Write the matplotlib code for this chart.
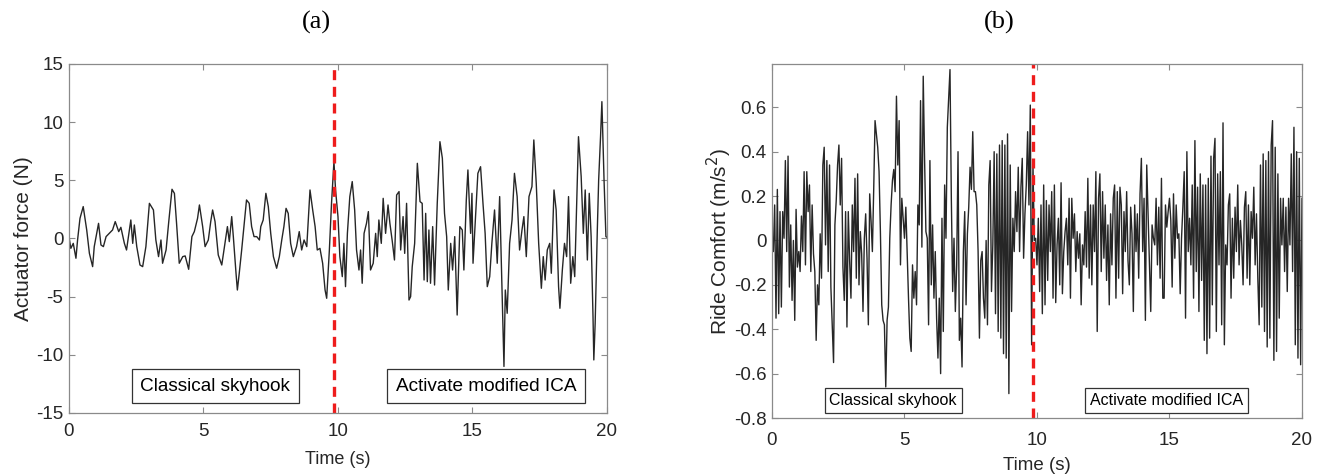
import numpy as np
import matplotlib.pyplot as plt

plt.rcParams['axes.unicode_minus'] = False

# ---- panel (a): actuator force ----
t_force = [0.0, 0.07, 0.16, 0.26, 0.32, 0.41, 0.53, 0.66, 0.76, 0.88, 0.94, 1.10, 1.19, 1.28,
           1.38, 1.50, 1.62, 1.72, 1.85, 1.93, 2.06, 2.14, 2.30, 2.37, 2.43, 2.52, 2.64, 2.74,
           2.86, 2.99, 3.14, 3.23, 3.33, 3.42, 3.48, 3.61, 3.71, 3.83, 3.92, 4.00, 4.10, 4.23,
           4.32, 4.45, 4.57, 4.66, 4.78, 4.85, 4.97, 5.06, 5.18, 5.27, 5.34, 5.43, 5.55, 5.68,
           5.80, 5.89, 5.96, 6.05, 6.11, 6.21, 6.26, 6.33, 6.42, 6.48, 6.60, 6.70, 6.79, 6.88,
           6.98, 7.08, 7.13, 7.22, 7.32, 7.41, 7.50, 7.60, 7.72, 7.82, 7.91, 7.99, 8.07, 8.15,
           8.24, 8.34, 8.46, 8.56, 8.65, 8.74, 8.84, 8.96, 9.06, 9.15, 9.23, 9.33, 9.43, 9.52,
           9.58, 9.68, 9.76, 9.85, 9.91, 10.00, 10.07, 10.16, 10.22, 10.28, 10.35, 10.44,
           10.53, 10.62, 10.69, 10.78, 10.84, 10.90, 10.97, 11.06, 11.13, 11.21, 11.31, 11.40,
           11.46, 11.52, 11.61, 11.68, 11.77, 11.86, 11.93, 12.02, 12.10, 12.18, 12.27, 12.33,
           12.42, 12.48, 12.55, 12.64, 12.70, 12.76, 12.85, 12.95, 13.05, 13.13, 13.20, 13.26,
           13.32, 13.38, 13.44, 13.52, 13.59, 13.69, 13.79, 13.88, 13.96, 14.04, 14.10, 14.19,
           14.26, 14.34, 14.43, 14.53, 14.62, 14.68, 14.77, 14.83, 14.93, 14.98, 15.02, 15.10,
           15.20, 15.30, 15.39, 15.47, 15.55, 15.64, 15.72, 15.82, 15.92, 16.01, 16.09, 16.17,
           16.22, 16.29, 16.38, 16.47, 16.56, 16.66, 16.75, 16.84, 16.91, 17.00, 17.10, 17.21,
           17.28, 17.37, 17.46, 17.56, 17.63, 17.70, 17.78, 17.87, 17.93, 18.03, 18.11, 18.20,
           18.25, 18.34, 18.42, 18.50, 18.57, 18.65, 18.73, 18.80, 18.94, 19.04, 19.12, 19.19,
           19.27, 19.34, 19.41, 19.48, 19.51, 19.56, 19.64, 19.69, 19.76, 19.81, 19.89, 19.96,
           20.0]
force = [0.16, -0.85, -0.42, -1.70, -0.13, 1.73, 2.74, 0.73, -1.28, -2.42, -0.70, 1.30, -0.56,
         -0.70, 0.16, 0.44, 0.73, 1.45, 0.59, 0.96, -0.42, -0.99, 1.59, -0.42, 1.16, -0.70,
         -2.28, -2.42, -0.70, 3.02, 2.45, -0.13, -1.56, -0.13, -2.13, -0.99, 1.45, 4.23, 3.88,
         1.30, -2.13, -1.56, -1.50, -2.65, 0.16, 0.59, 1.73, 2.88, 1.02, -0.70, -0.13, 1.45,
         2.45, 1.45, -1.42, -2.28, -0.42, 1.02, -0.27, 1.88, 0.16, -2.99, -4.43, -2.99, -0.99,
         0.44, 3.31, 3.02, 1.02, 0.16, 0.16, -0.13, 1.02, 1.59, 3.88, 2.74, 0.44, -1.56, -2.56,
         -1.56, -0.13, 1.02, 2.59, 2.16, -0.42, -1.56, -0.70, 0.59, -0.99, -0.13, -0.70, 4.17,
         2.45, 1.02, -0.99, -0.85, -2.13, -4.43, -5.14, -0.99, 3.02, 6.6, 4.17, 1.88, -1.56,
         -3.28, -0.42, -4.14, 0.44, 3.60, 4.89, 2.45, -0.99, -2.71, -0.99, -3.85, 0.44, 1.30,
         2.31, -2.71, -2.13, 0.44, -1.56, 1.59, -0.42, 3.45, 0.44, 2.88, 1.30, -0.27, -1.85,
         3.74, 4.03, -0.99, 1.88, -1.28, 3.02, -5.29, -5.0, -2.42, -0.42, 6.46, 3.17, 3.02,
         -3.57, 2.16, -3.71, 0.73, -3.85, 1.02, -4.0, 3.02, 8.32, 6.89, 2.16, 0.16, -4.43,
         -0.42, -2.71, 0.16, -6.58, 1.02, 0.73, -2.71, 3.31, 5.89, 0.44, 3.88, -2.13, 1.30,
         5.60, 6.17, 3.02, 0.44, -4.14, -3.28, -0.42, 2.45, -2.13, 3.60, -3.85, -11.0, -4.43,
         -6.43, -0.42, 1.59, 5.60, 3.60, -0.99, 0.73, 1.88, -1.56, 3.60, 4.46, 8.47, 4.74,
         -0.42, -4.28, -1.56, -3.57, -0.99, -0.42, -2.99, 4.17, 2.45, -4.14, -6.0, -2.71,
         -0.42, -1.56, 3.60, -3.85, -1.56, -3.28, 8.75, 5.32, 0.44, 4.17, -1.85, 3.88, 0.16,
         -6.72, -10.44, -7.29, 0.73, 5.03, 8.75, 11.76, 5.03, 0.16, 0.1]

# ---- panel (b): ride comfort acceleration, sampled evenly over 0-20 s ----
ride = [0.0, -0.05, 0.16, -0.35, 0.23, -0.33, 0.13, -0.30, 0.13, 0.01, 0.36, -0.05, 0.38,
        -0.21, 0.07, -0.27, 0.0, -0.36, 0.14, -0.12, -0.05, -0.14, 0.11, -0.05, 0.31, -0.11,
        0.31, 0.13, 0.25, -0.14, 0.16, -0.06, -0.14, -0.45, -0.20, -0.29, 0.03, -0.17, 0.34,
        0.42, -0.02, 0.36, -0.14, 0.34, -0.21, -0.38, -0.55, 0.07, 0.18, 0.34, 0.43, 0.16,
        0.37, -0.12, -0.27, 0.13, -0.39, 0.13, -0.09, -0.26, 0.16, -0.05, 0.28, -0.17, 0.30,
        -0.20, 0.04, -0.06, -0.32, 0.01, 0.12, -0.08, -0.38, 0.21, 0.09, -0.05, 0.23, 0.54,
        0.48, 0.42, 0.31, 0.04, -0.29, -0.36, -0.38, -0.66, -0.36, -0.30, 0.01, 0.16, 0.27,
        0.32, 0.22, 0.65, 0.34,
        0.54, -0.11, 0.19, 0.10, 0.01, 0.15, -0.06, -0.26, -0.44, -0.50, -0.11, -0.26, -0.14,
        -0.29, 0.16, 0.07, 0.63, -0.03, 0.74, 0.37, 0.04, 0.01, -0.38, 0.36, -0.20, 0.07,
        -0.26, -0.05, -0.35, -0.53, -0.26, -0.60, 0.10, -0.41, 0.25, 0.01, 0.51, 0.64, 0.77,
        0.19, -0.23, 0.01, -0.32, -0.11, 0.40, -0.45, -0.35, -0.57, -0.05, 0.13, -0.29, 0.03,
        0.15, 0.33, 0.23, 0.49, 0.22, 0.22, 0.16, -0.05, -0.44, -0.09, -0.05, -0.26, -0.35,
        0.0, -0.38, 0.25, 0.36, -0.23, -0.02, 0.40, -0.33, 0.39, -0.41, 0.43, -0.44, 0.45,
        -0.51, 0.43, -0.53, 0.48, -0.69, 0.34, -0.32, 0.10, -0.05, 0.22, 0.04, 0.33, -0.05,
        0.24, 0.37, -0.08, 0.12, 0.25, 0.49, 0.16, 0.61, -0.47,
        0.34, 0.0, 0.01, -0.11, 0.10, -0.23, 0.16, -0.33, 0.25, -0.29, 0.18, -0.18, 0.16,
        -0.05, 0.22, -0.26, 0.25, -0.28, -0.02, 0.10, -0.20, 0.26, -0.24, -0.05, 0.04, 0.10,
        -0.11, 0.19, -0.26, 0.19, 0.01, 0.12, -0.14, 0.04, -0.08, 0.03, -0.29, -0.02, -0.11,
        0.13, -0.12, 0.28, -0.17, 0.16, -0.20, 0.16, -0.05, 0.31, -0.41, 0.19, 0.30, -0.14,
        0.22, -0.08, 0.16, -0.18, 0.07, -0.29, 0.12, -0.11, 0.19, 0.25, -0.26, 0.22, -0.17,
        0.24, 0.16, -0.24, 0.13, -0.05, 0.22, -0.09, -0.20, 0.15, 0.03, -0.32, 0.16, -0.05,
        0.12, -0.17, 0.21, 0.37, -0.05, 0.19, -0.36, 0.34, 0.12, -0.11, -0.32, 0.07, 0.01,
        -0.02, 0.19, -0.11, 0.15, -0.17, 0.28, -0.26,
        -0.26, 0.16, 0.06, 0.13, 0.19, 0.09, -0.21, 0.21, -0.08, 0.16, 0.01, 0.03, -0.24,
        0.01, 0.15, 0.31, -0.35, 0.40, -0.05, 0.10, -0.11, 0.25, -0.26, 0.45, -0.14, 0.24,
        -0.32, 0.30, -0.18, 0.25, -0.45, 0.25, -0.51, 0.28, -0.44, 0.38, -0.29, 0.37, 0.46,
        -0.41, 0.30, -0.11, 0.31, -0.38, 0.53, -0.47, -0.02, -0.11, 0.16, 0.21, -0.26, 0.10,
        -0.17, 0.15, -0.05, 0.25, -0.11, 0.09, -0.02, -0.20, 0.15, 0.22, -0.17, 0.16, -0.20,
        0.13, 0.01, 0.24, -0.11, 0.12, -0.17, -0.38, 0.34, -0.30, 0.39, -0.41, 0.36, -0.48,
        0.40, -0.44, 0.43, 0.54, -0.54, 0.42, -0.50, 0.30, -0.35, 0.19, -0.02, 0.19, -0.14,
        0.15, -0.23, 0.19, -0.02, 0.39, -0.14, 0.51, -0.47, 0.40, -0.53, 0.37, -0.56, 0.19]
t_ride = np.linspace(0, 20, len(ride))

switch_time = 9.85
titles = ['(a)', '(b)']
ylabels = ['Actuator force (N)', 'Ride Comfort (m/s$^2$)']
a_ticks = [-15, -10, -5, 0, 5, 10, 15]
b_ticks = [-0.8, -0.6, -0.4, -0.2, 0, 0.2, 0.4, 0.6]
b_ticklabels = ['-0.8', '-0.6', '-0.4', '-0.2', '0', '0.2', '0.4', '0.6']

fig = plt.figure(figsize=(13.21, 4.76), dpi=100)
ax1 = fig.add_axes([0.0522, 0.1324, 0.4073, 0.7332])
ax2 = fig.add_axes([0.5844, 0.1218, 0.4012, 0.7437])

sans = 'Liberation Sans'
spine_col = '#8a8a8a'
txt_col = '#262626'

ax1.plot(t_force, force, color='#262626', lw=1.0)
ax2.plot(t_ride, ride, color='#262626', lw=1.0)

ax1.set_ylim(-15, 15)
ax1.set_yticks(a_ticks)
ax2.set_ylim(-0.8, 0.795)
ax2.set_yticks(b_ticks)
ax2.set_yticklabels(b_ticklabels)

for ax in (ax1, ax2):
    ax.axvline(switch_time, color='#ee1c1c', lw=2.4, ls=(0, (3, 2)))
    ax.set_xlim(0, 20)
    ax.set_xticks([0, 5, 10, 15, 20])
    ax.tick_params(direction='in', top=True, right=True, length=4, width=0.8,
                   color=spine_col, labelsize=13.5, labelcolor=txt_col, pad=4)
    for s in ax.spines.values():
        s.set_color(spine_col)
        s.set_linewidth(0.9)
    for lab in ax.get_xticklabels() + ax.get_yticklabels():
        lab.set_family(sans)

ax1.tick_params(axis='x', pad=7)
ax2.tick_params(axis='x', pad=10)

ax1.set_xlabel('Time (s)', family=sans, fontsize=13, color=txt_col, labelpad=8)
ax2.set_xlabel('Time (s)', family=sans, fontsize=13.5, color=txt_col, labelpad=6)
ax1.set_ylabel(ylabels[0], family=sans, fontsize=15, color=txt_col, labelpad=2)
ax2.set_ylabel(ylabels[1], family=sans, fontsize=15, color=txt_col, labelpad=0)

box = dict(boxstyle='square', fc='white', ec='#333333', lw=0.9)
ax1.text(5.43, -12.7, 'Classical skyhook', ha='center', va='center', family=sans,
         fontsize=13.7, bbox=dict(box, pad=0.45))
ax1.text(15.5, -12.7, 'Activate modified ICA', ha='center', va='center', family=sans,
         fontsize=13.7, bbox=dict(box, pad=0.45))
ax2.text(4.57, -0.72, 'Classical skyhook', ha='center', va='center', family=sans,
         fontsize=11.5, bbox=dict(box, pad=0.3))
ax2.text(14.9, -0.72, 'Activate modified ICA', ha='center', va='center', family=sans,
         fontsize=11.5, bbox=dict(box, pad=0.3))

fig.text(316 / 1321, 1 - 22 / 476, titles[0], family='Liberation Serif', fontsize=19,
         ha='center', va='center')
fig.text(999 / 1321, 1 - 22 / 476, titles[1], family='Liberation Serif', fontsize=19,
         ha='center', va='center')

fig.savefig('out.png', dpi=100)
